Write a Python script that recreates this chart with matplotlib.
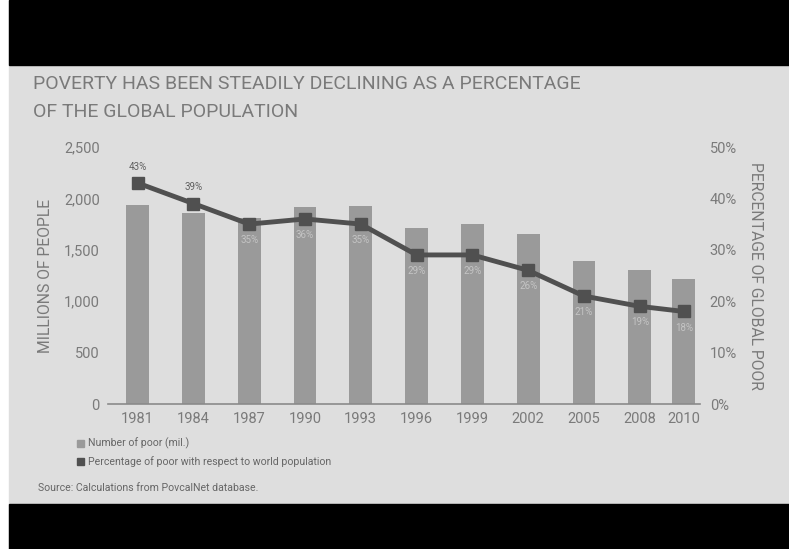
import matplotlib
matplotlib.use("Agg")
import matplotlib.pyplot as plt
import numpy as np
from matplotlib.patches import Rectangle
from matplotlib.ticker import FuncFormatter

years = ["1981", "1984", "1987", "1990", "1993", "1996", "1999", "2002", "2005", "2008", "2010"]
poor_mil = [1940, 1860, 1805, 1920, 1930, 1710, 1750, 1650, 1395, 1305, 1220]
pct_poor = [43, 39, 35, 36, 35, 29, 29, 26, 21, 19, 18]
left_ticks = [0, 500, 1000, 1500, 2000, 2500]
right_ticks = [0, 10, 20, 30, 40, 50]

BG = "#dedede"
BAR = "#9a9a9a"
LINE = "#505050"
TXT = "#7a7a7a"
plt.rcParams["font.family"] = ["Roboto", "DejaVu Sans"]

W, H = 789, 549
fig = plt.figure(figsize=(W / 100, H / 100), dpi=100, facecolor="white")

# panel and black bands
fig.patches.append(Rectangle((9 / W, 0), 1, 1, transform=fig.transFigure, color=BG, zorder=-10))
fig.patches.append(Rectangle((9 / W, 1 - 65 / H), 1, 65 / H, transform=fig.transFigure, color="black", zorder=-9))
fig.patches.append(Rectangle((9 / W, 0), 1, (H - 504) / H, transform=fig.transFigure, color="black", zorder=-9))

ax = fig.add_axes([108 / W, 1 - 404 / H, (700 - 108) / W, (404 - 147) / H])
ax.set_facecolor("none")

# category positions: the last step (2008 -> 2010) is drawn narrower
pos = np.arange(len(years), dtype=float)
pos[-1] = pos[-2] + 0.79

ax.bar(pos, poor_mil, width=0.41, color=BAR, zorder=2)
ax.set_ylim(0, 2500)
ax.set_xlim(pos[0] - 0.53, pos[-1] + 0.29)
ax.set_yticks(left_ticks)
ax.yaxis.set_major_formatter(FuncFormatter(lambda v, p: f"{int(v):,}"))
ax.set_xticks(pos)
ax.set_xticklabels(years)
for s in ["top", "right", "left"]:
    ax.spines[s].set_visible(False)
ax.spines["bottom"].set_color("#8a8a8a")
ax.spines["bottom"].set_linewidth(1.2)
ax.tick_params(axis="y", length=0, pad=6, labelsize=10.5, labelcolor=TXT)
ax.tick_params(axis="x", length=0, pad=6, labelsize=10.5, labelcolor=TXT)
ax.set_ylabel("MILLIONS OF PEOPLE", fontsize=11.3, color=TXT, labelpad=8)

ax2 = ax.twinx()
ax2.set_ylim(0, 50)
ax2.set_yticks(right_ticks)
ax2.yaxis.set_major_formatter(FuncFormatter(lambda v, p: f"{int(v)}%"))
for s in ["top", "right", "left", "bottom"]:
    ax2.spines[s].set_visible(False)
ax2.tick_params(axis="y", length=0, pad=7, labelsize=10.5, labelcolor=TXT)
ax2.set_ylabel("PERCENTAGE OF GLOBAL POOR", fontsize=11.3, color=TXT,
               rotation=-90, labelpad=19)
ax2.plot(pos, pct_poor, color=LINE, lw=3.5, marker="s", ms=8, zorder=5)

for i, (x, v) in enumerate(zip(pos, pct_poor)):
    if i < 2:
        ax2.annotate(f"{v}%", (x, v), xytext=(0, 8), textcoords="offset points",
                     ha="center", va="bottom", fontsize=7, color="#606060")
    else:
        ax2.annotate(f"{v}%", (x, v), xytext=(0, -8), textcoords="offset points",
                     ha="center", va="top", fontsize=7, color="#c4c4c4")

# title
fig.text(33 / W, 1 - 84 / H, "POVERTY HAS BEEN STEADILY DECLINING AS A PERCENTAGE",
         fontsize=14, color="#7a7a7a", va="center", ha="left")
fig.text(33 / W, 1 - 112 / H, "OF THE GLOBAL POPULATION",
         fontsize=14, color="#7a7a7a", va="center", ha="left")

# legend
fig.patches.append(Rectangle((77 / W, 1 - 447 / H), 7 / W, 7 / H, transform=fig.transFigure, color=BAR))
fig.text(88 / W, 1 - 443.5 / H, "Number of poor (mil.)", fontsize=7.6, color="#666666", va="center")
fig.patches.append(Rectangle((77 / W, 1 - 465 / H), 7 / W, 7 / H, transform=fig.transFigure, color=LINE))
fig.text(88 / W, 1 - 461.5 / H, "Percentage of poor with respect to world population", fontsize=7.6,
         color="#666666", va="center")
fig.text(38 / W, 1 - 488 / H, "Source: Calculations from PovcalNet database.", fontsize=7.6,
         color="#666666", va="center")

fig.savefig("out.png", dpi=100, facecolor="white")
